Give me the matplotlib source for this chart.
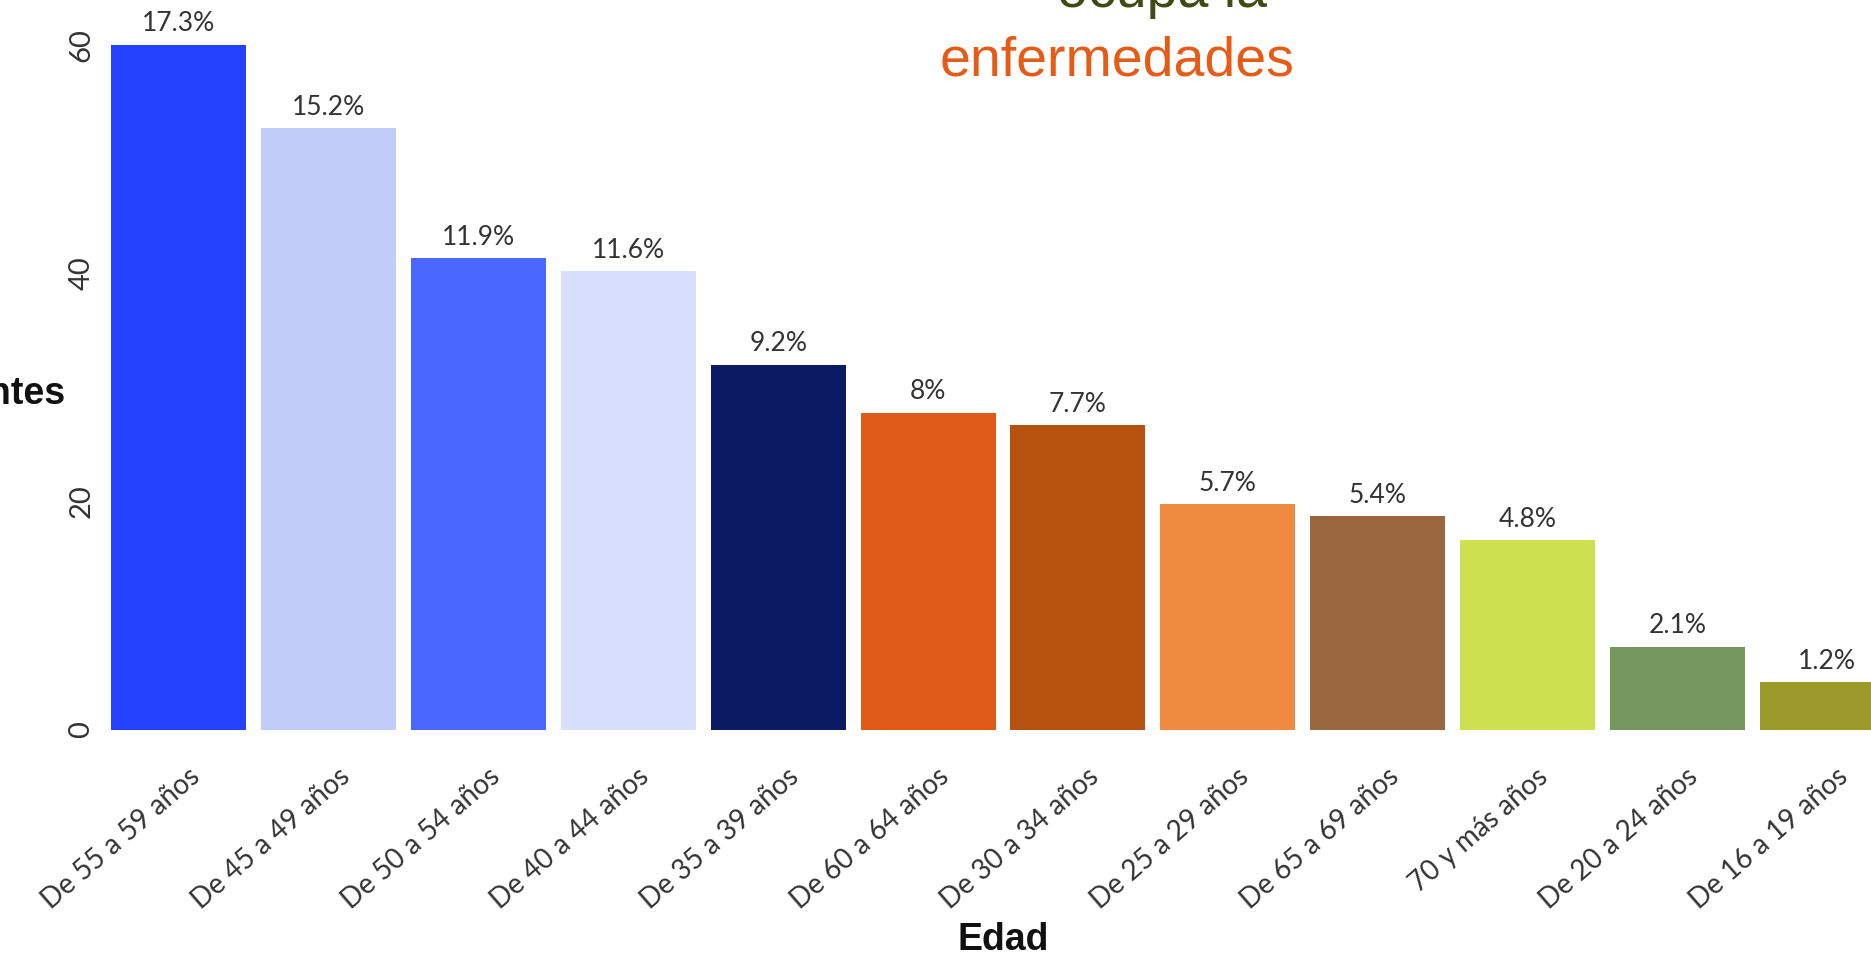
import matplotlib
matplotlib.use("Agg")
import matplotlib.pyplot as plt
from matplotlib.transforms import ScaledTranslation

# data
edades = ["De 55 a 59 años", "De 45 a 49 años", "De 50 a 54 años", "De 40 a 44 años",
          "De 35 a 39 años", "De 60 a 64 años", "De 30 a 34 años", "De 25 a 29 años",
          "De 65 a 69 años", "70 y más años", "De 20 a 24 años", "De 16 a 19 años"]
pacientes = [60, 52.7, 41.3, 40.2, 32.0, 27.8, 26.7, 19.8, 18.7, 16.6, 7.3, 4.2]
porcentajes = ["17.3%", "15.2%", "11.9%", "11.6%", "9.2%", "8%", "7.7%", "5.7%",
               "5.4%", "4.8%", "2.1%", "1.2%"]
colores = ["#2342FF", "#C2CEF9", "#4A68FF", "#D9E0FD", "#0B1A63", "#E05A18",
           "#B5520E", "#EE8B40", "#996740", "#CDE150", "#76985E", "#9C9A2A"]
yticks = [0, 20, 40, 60]

W, H = 1871, 956
fig = plt.figure(figsize=(W / 100, H / 100), dpi=100)

# axes runs past the right edge, like the cropped original
px_per_unit = 11.42
ymax = 63
ax_left, ax_right, ax_bottom = 104, 1902, 730
ax_h = ymax * px_per_unit
ax = fig.add_axes([ax_left / W, (H - ax_bottom) / H,
                   (ax_right - ax_left) / W, ax_h / H])

x = range(len(edades))
ax.bar(x, pacientes, width=0.9, color=colores)
ax.set_xlim(-0.5, len(edades) - 0.5)
ax.set_ylim(0, ymax)

for xi, v, p in zip(x, pacientes, porcentajes):
    ax.annotate(p, (xi, v), xytext=(0, 6), textcoords="offset points",
                ha="center", va="bottom", fontsize=19, color="#333333",
                family="Lato")

for s in ax.spines.values():
    s.set_visible(False)

ax.set_yticks(yticks)
ax.set_yticklabels([str(t) for t in yticks], rotation=90, va="center",
                   fontsize=21, color="#333333", family="Lato")
ax.tick_params(axis="y", length=0, pad=7)

ax.set_xticks(list(x))
ax.set_xticklabels(edades, rotation=41, ha="right", fontsize=20,
                   color="#333333", family="Lato")
ax.tick_params(axis="x", length=0, pad=24)
shift = ScaledTranslation(0.26, 0, fig.dpi_scale_trans)
for lab in ax.get_xticklabels():
    lab.set_transform(lab.get_transform() + shift)

ax.set_xlabel("Edad", fontsize=27, fontweight="bold", color="#111111",
              family="Liberation Sans")
ax.xaxis.set_label_coords(0.5, -(940 - ax_bottom) / ax_h)
ax.xaxis.label.set_va("center")

ax.set_ylabel("Pacientes", fontsize=27, fontweight="bold", color="#111111",
              family="Liberation Sans", rotation=0, ha="right", va="center")
ax.yaxis.set_label_coords((66 - ax_left) / (ax_right - ax_left),
                          (ax_bottom - 394) / ax_h)

# title, top line clipped by the figure edge
fig.text(1162 / W, (H - 7) / H, "ocupa la", ha="center", va="baseline",
         fontsize=40, color="#3F4A14", family="Liberation Sans")
fig.text(1117 / W, (H - 75) / H, "enfermedades", ha="center", va="baseline",
         fontsize=40, color="#E65C17", family="Liberation Sans")

fig.savefig("out.png", dpi=100, facecolor="white")
